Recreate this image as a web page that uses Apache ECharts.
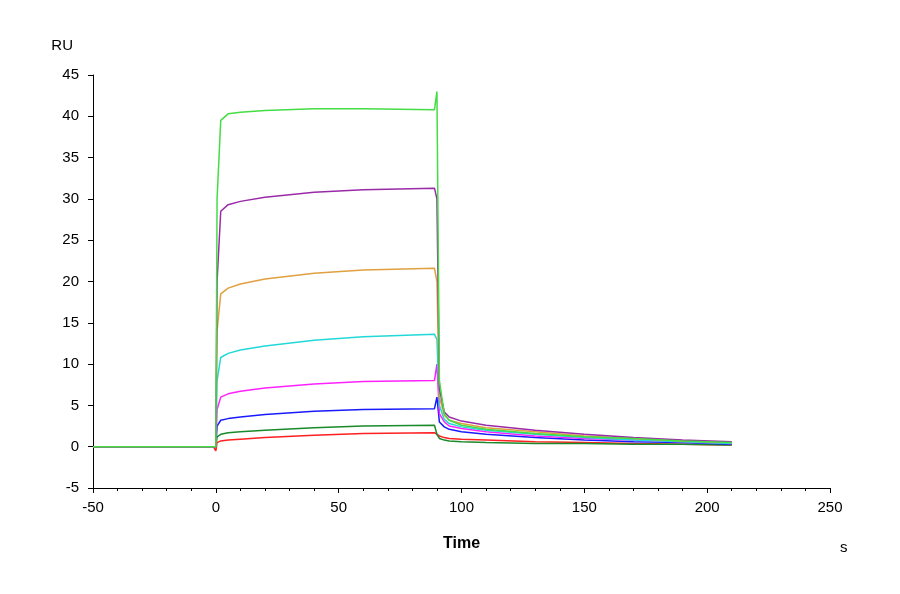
<!DOCTYPE html>
<html>
<head>
<meta charset="utf-8">
<script src="https://cdn.jsdelivr.net/npm/echarts@6/dist/echarts.min.js"></script>
<style>html,body{margin:0;background:#fff}#c{width:900px;height:594px}</style>
</head>
<body>
<div id="c"></div>
<script>
// 时间点 (s)
const times = [-50, -40, -30, -20, -10, -1, 0, 0.5, 2, 5, 10, 20, 40, 60, 89, 90, 91, 93, 95, 100, 110, 130, 150, 170, 190, 210];
const base = [0, 0, 0, 0, 0, 0];

const green   = [...base, 0,  30,  39.5, 40.3, 40.5, 40.7, 40.9, 40.9, 40.8, 43,  8,   4,   3.2, 2.6, 2.1, 1.6, 1.2, 1.0, 0.7, 0.5];
const purple  = [...base, 0,  20,  28.5, 29.3, 29.7, 30.2, 30.8, 31.1, 31.3, 30,  7,   4.2, 3.6, 3.1, 2.6, 2.0, 1.5, 1.1, 0.8, 0.6];
const orange  = [...base, 0,  14,  18.5, 19.2, 19.7, 20.3, 21.0, 21.4, 21.6, 20,  6,   3.8, 3.2, 2.8, 2.3, 1.8, 1.3, 1.0, 0.7, 0.5];
const cyan    = [...base, 0,  8,   10.8, 11.3, 11.7, 12.2, 12.9, 13.3, 13.6, 13,  5,   3.3, 2.8, 2.4, 2.0, 1.5, 1.1, 0.8, 0.6, 0.4];
const magenta = [...base, 0,  4.5, 6.0,  6.4,  6.7,  7.1,  7.6,  7.9,  8.0,  10,  4,   3.0, 2.5, 2.2, 1.8, 1.3, 1.0, 0.8, 0.6, 0.4];
const blue    = [...base, 0,  2.5, 3.2,  3.4,  3.6,  3.9,  4.3,  4.5,  4.6,  6,   3,   2.4, 2.1, 1.8, 1.5, 1.1, 0.8, 0.6, 0.5, 0.3];
const dgreen  = [...base, 0,  1.2, 1.5,  1.7,  1.8,  2.0,  2.3,  2.5,  2.6,  1.5, 1.0, 0.8, 0.7, 0.6, 0.5, 0.4, 0.4, 0.3, 0.3, 0.2];
const red     = [...base, -0.5, 0.5, 0.7, 0.8,  0.9,  1.1,  1.4,  1.6,  1.7,  1.5, 1.3, 1.1, 1.0, 0.9, 0.8, 0.6, 0.5, 0.4, 0.3, 0.2];

const seriesDefs = [
  ['red', red, '#ff2020'],
  ['dgreen', dgreen, '#1a8a2a'],
  ['blue', blue, '#1a1aff'],
  ['magenta', magenta, '#ff22ff'],
  ['cyan', cyan, '#22d8d8'],
  ['orange', orange, '#e0a040'],
  ['purple', purple, '#9a2aa8'],
  ['green', green, '#44dd44'],
];

const chart = echarts.init(document.getElementById('c'));
chart.setOption({
  animation: false,
  grid: { left: 93, right: 70, top: 75, bottom: 106 },
  xAxis: {
    type: 'value', min: -50, max: 250, interval: 50,
    name: 'Time', nameLocation: 'middle', nameGap: 48,
    nameTextStyle: { fontWeight: 'bold', fontSize: 16, color: '#000' },
    axisLine: { onZero: false, lineStyle: { color: '#000' } },
    axisTick: { inside: false, length: 5, lineStyle: { color: '#000' } },
    minorTick: { show: true, splitNumber: 5, length: 3, lineStyle: { color: '#000' } },
    axisLabel: { color: '#000', fontSize: 15, margin: 12 },
    splitLine: { show: false }
  },
  yAxis: {
    type: 'value', min: -5, max: 45, interval: 5,
    name: 'RU', nameLocation: 'end', nameGap: 22,
    nameTextStyle: { color: '#000', fontSize: 15, align: 'right', padding: [0, 20, 0, 0] },
    axisLine: { show: true, onZero: false, lineStyle: { color: '#000' } },
    axisTick: { show: true, length: 5, lineStyle: { color: '#000' } },
    axisLabel: { color: '#000', fontSize: 15, margin: 14 },
    splitLine: { show: false }
  },
  graphic: [{ type: 'text', left: 840, top: 540, style: { text: 's', fontSize: 15, fill: '#000' } }],
  series: seriesDefs.map(([name, vals, color]) => ({
    name, type: 'line', showSymbol: false,
    data: times.map((t, i) => [t, vals[i]]),
    lineStyle: { color, width: 1.5 }, itemStyle: { color }
  }))
});
</script>
</body>
</html>
